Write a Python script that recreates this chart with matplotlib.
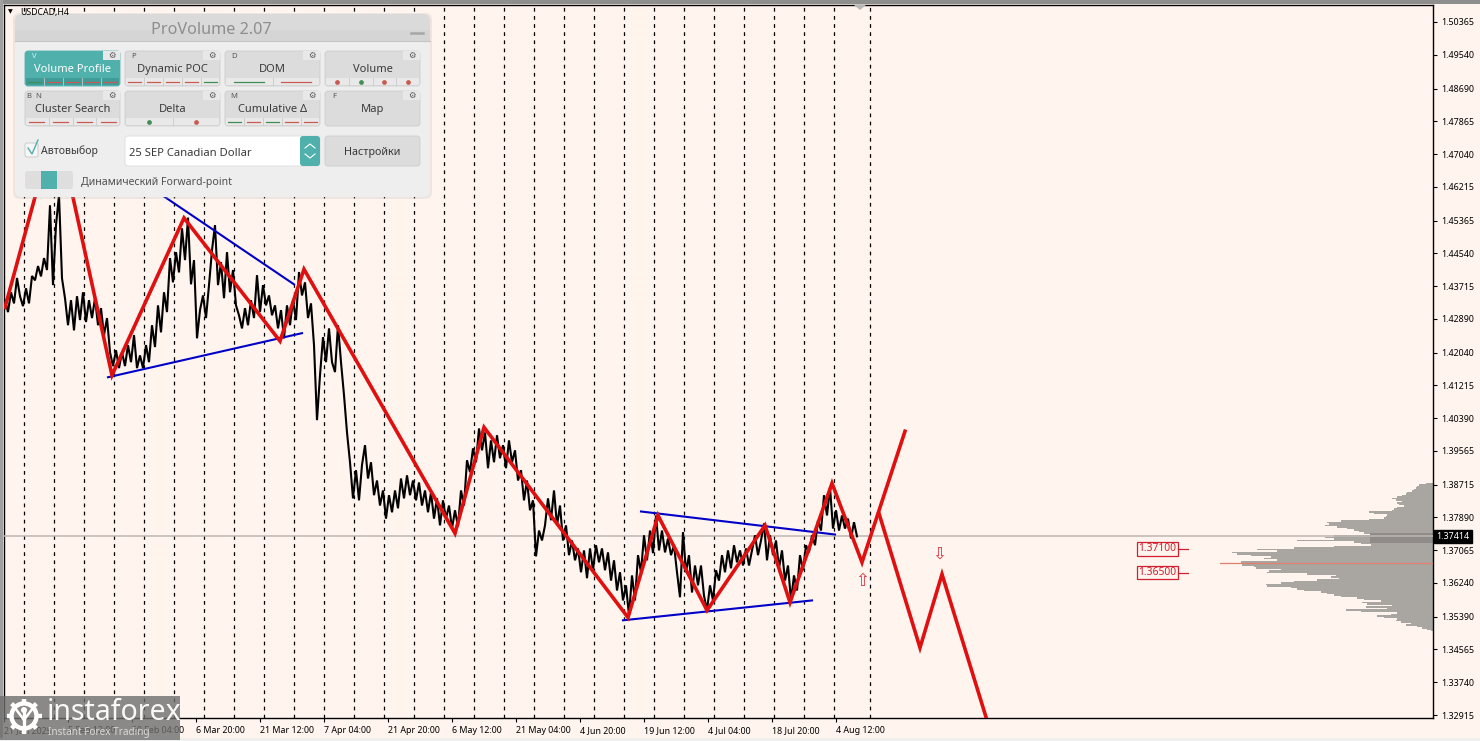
import numpy as np
import matplotlib as mpl
mpl.use('agg')
import matplotlib.pyplot as plt
from matplotlib.patches import FancyBboxPatch, Rectangle, Circle

plt.rcParams['font.family'] = ['Noto Sans', 'DejaVu Sans']

# price path of USDCAD H4, one value every 3 chart positions
price_path = [
    1.4336,1.4306,1.4356,1.4328,1.4392,1.4346,1.4321,1.4366,1.4328,1.4397,
    1.4386,1.4422,1.4396,1.4442,1.4412,1.4575,1.4374,1.4525,1.4601,1.4391,
    1.4341,1.4273,1.4336,1.4260,1.4346,1.4286,1.4356,1.4281,1.4336,1.4291,
    1.4341,1.4273,1.4316,1.4248,1.4291,1.4205,1.4170,1.4210,1.4165,1.4205,
    1.4170,1.4223,1.4180,1.4248,1.4165,1.4197,1.4165,1.4223,1.4180,1.4273,
    1.4218,1.4323,1.4255,1.4356,1.4306,1.4442,1.4381,1.4457,1.4406,1.4517,
    1.4437,1.4544,1.4376,1.4437,1.4240,1.4311,1.4348,1.4291,1.4374,1.4462,
    1.4525,1.4374,1.4432,1.4341,1.4457,1.4356,1.4412,1.4323,1.4298,1.4265,
    1.4316,1.4273,1.4336,1.4291,1.4399,1.4306,1.4374,1.4323,1.4348,1.4298,
    1.4323,1.4265,1.4311,1.4240,1.4323,1.4273,1.4336,1.4286,1.4407,1.4348,
    1.4381,1.4291,1.4328,1.4223,1.4034,1.4147,1.4243,1.4180,1.4265,1.4180,
    1.4155,1.4273,1.4180,1.4097,1.4003,1.3928,1.3837,1.3908,1.3832,1.3921,
    1.3971,1.3887,1.3928,1.3845,1.3882,1.3819,1.3857,1.3786,1.3845,1.3802,
    1.3857,1.3812,1.3887,1.3837,1.3895,1.3845,1.3882,1.3832,1.3877,1.3819,
    1.3857,1.3802,1.3852,1.3786,1.3837,1.3769,1.3832,1.3786,1.3819,1.3761,
    1.3807,1.3766,1.3857,1.3819,1.3933,1.3903,1.3963,1.3928,1.4013,1.3958,
    1.4003,1.3913,1.3983,1.3928,1.3996,1.3938,1.3971,1.3913,1.3983,1.3928,
    1.3958,1.3882,1.3908,1.3832,1.3882,1.3807,1.3832,1.3691,1.3756,1.3731,
    1.3769,1.3837,1.3782,1.3857,1.3769,1.3819,1.3731,1.3769,1.3694,1.3731,
    1.3681,1.3711,1.3651,1.3706,1.3636,1.3711,1.3656,1.3719,1.3676,1.3711,
    1.3656,1.3701,1.3630,1.3681,1.3605,1.3651,1.3580,1.3618,1.3542,1.3643,
    1.3580,1.3694,1.3651,1.3744,1.3681,1.3756,1.3699,1.3794,1.3706,1.3756,
    1.3701,1.3736,1.3694,1.3719,1.3651,1.3588,1.3752,1.3651,1.3694,1.3600,
    1.3668,1.3618,1.3668,1.3592,1.3555,1.3618,1.3580,1.3656,1.3630,1.3694,
    1.3651,1.3706,1.3661,1.3719,1.3676,1.3706,1.3668,1.3711,1.3668,1.3706,
    1.3744,1.3694,1.3731,1.3774,1.3681,1.3744,1.3694,1.3731,1.3661,1.3706,
    1.3630,1.3668,1.3580,1.3643,1.3605,1.3694,1.3656,1.3719,1.3701,1.3744,
    1.3719,1.3782,1.3756,1.3845,1.3794,1.3865,1.3761,1.3807,1.3756,1.3794,
    1.3761,1.3786,1.3736,1.3777,1.37414,
]
last_price = 1.37414

# red zigzag and the forecast legs
zigzag_x = [5, 56, 112, 184, 280, 304, 455, 484, 628, 658, 707, 765, 790, 832, 862, 905]
zigzag_y = [1.4318, 1.4790, 1.4147, 1.4543, 1.4233, 1.4414, 1.3749, 1.4016, 1.3537,
            1.3794, 1.3555, 1.3769, 1.3575, 1.3875, 1.3676, 1.4006]
forecast_x = [879, 920, 942, 988]
forecast_y = [1.3799, 1.3461, 1.3646, 1.3270]

# blue trend lines
trend_lines = [
    ([108, 302], [1.4142, 1.4253]),
    ([150, 294], [1.4621, 1.4376]),
    ([641, 835], [1.3804, 1.3746]),
    ([623, 812], [1.3530, 1.3580]),
]

# volume profile
profile_prices = [
    1.38750,1.38712,1.38674,1.38636,1.38598,1.38560,1.38522,1.38484,1.38446,1.38408,
    1.38370,1.38332,1.38294,1.38256,1.38218,1.38180,1.38142,1.38104,1.38066,1.38028,
    1.37990,1.37952,1.37914,1.37876,1.37838,1.37800,1.37762,1.37724,1.37686,1.37648,
    1.37610,1.37572,1.37534,1.37496,1.37458,1.37420,1.37382,1.37344,1.37306,1.37268,
    1.37230,1.37192,1.37154,1.37116,1.37078,1.37040,1.37002,1.36964,1.36926,1.36888,
    1.36850,1.36812,1.36774,1.36736,1.36698,1.36660,1.36622,1.36584,1.36546,1.36508,
    1.36470,1.36432,1.36394,1.36356,1.36318,1.36280,1.36242,1.36204,1.36166,1.36128,
    1.36090,1.36052,1.36014,1.35976,1.35938,1.35900,1.35862,1.35824,1.35786,1.35748,
    1.35710,1.35672,1.35634,1.35596,1.35558,1.35520,1.35482,1.35444,1.35406,1.35368,
    1.35330,1.35292,1.35254,1.35216,1.35178,1.35140,1.35102,1.35064,1.35026,
]
profile_volume = [
    7,14,16,17,19,21,26,27,31,36,
    41,37,31,36,34,29,36,39,41,64,
    59,46,47,49,64,92,106,104,108,96,
    86,79,74,69,59,99,108,99,136,79,
    72,62,99,139,176,156,201,196,182,162,
    169,156,192,212,191,179,177,152,164,166,
    126,97,102,94,116,139,152,167,166,142,
    136,129,112,106,99,92,76,69,52,71,
    66,41,67,46,87,72,36,42,56,49,
    36,37,32,22,27,16,11,6,2,
]
poc_price = 1.36736

levels = [1.37100, 1.36500]
level_labels = ['1.37100', '1.36500']

y_ticks = [1.50365,1.49540,1.48690,1.47865,1.47040,1.46215,1.45365,1.44540,1.43715,1.42890,
           1.42040,1.41215,1.40390,1.39565,1.38715,1.37890,1.37065,1.36240,1.35390,1.34565,
           1.33740,1.32915]
x_ticks = [4, 68, 132, 196, 260, 324, 388, 452, 516, 580, 644, 708, 772, 836]
x_labels = ['21 Jan 2025', '5 Feb 12:00', '20 Feb 04:00', '6 Mar 20:00', '21 Mar 12:00', '7 Apr 04:00',
            '21 Apr 20:00', '6 May 12:00', '21 May 04:00', '4 Jun 20:00', '19 Jun 12:00', '4 Jul 04:00',
            '18 Jul 20:00', '4 Aug 12:00']
period_lines = list(range(24, 835, 30)) + [870]

BG = '#FFF5EE'
RED = '#E01010'
BLUE = '#0000C8'
TEAL = '#4FB0AC'

fig = plt.figure(figsize=(14.8, 7.41), dpi=100, facecolor=BG)
ax = fig.add_axes([4 / 1480, 23 / 741, 1429 / 1480, 713 / 741], facecolor=BG)
ax.set_xlim(4, 1433)
ax.set_ylim(1.32840, 1.50793)

for x in period_lines:
    ax.axvline(x, color='black', lw=0.9, dashes=(3, 3.5), zorder=1)

# profile first, so the price line goes over it
ax.fill_betweenx(profile_prices, [1433 - v for v in profile_volume], 1433, step='mid',
                 color='#A9A5A1', lw=0, zorder=2)
ax.fill_betweenx([1.3751, 1.3725], 1370, 1433, color='#8F8B88', lw=0, zorder=2)
ax.plot([1220, 1433], [poc_price, poc_price], color='#E08070', lw=0.9, zorder=3)
ax.axhline(last_price, color='#BDB6B0', lw=1.1, zorder=3)

bar_x = np.arange(len(price_path)) * 3 + 5
ax.plot(bar_x, price_path, color='black', lw=1.5, zorder=4, solid_joinstyle='miter')

for tx, ty in trend_lines:
    ax.plot(tx, ty, color=BLUE, lw=1.5, zorder=5)
ax.plot(zigzag_x, zigzag_y, color=RED, lw=2.6, zorder=6, solid_joinstyle='miter')
ax.plot(forecast_x, forecast_y, color=RED, lw=2.6, zorder=6, solid_joinstyle='miter')

ax.text(862, 1.3629, '\u21e7', color='#E03040', fontsize=12, ha='center', va='center',
        family='DejaVu Sans', zorder=7)
ax.text(939, 1.3697, '\u21e9', color='#E03040', fontsize=12, ha='center', va='center',
        family='DejaVu Sans', zorder=7)

for lev, lab in zip(levels, level_labels):
    ax.text(1157.5, lev, lab, color='#D02030', fontsize=7.4, ha='center', va='center', zorder=7,
            bbox=dict(boxstyle='square,pad=0.12', fc='none', ec='#D02030', lw=0.9))
    ax.plot([1178, 1188], [lev, lev], color='#D02030', lw=0.9, zorder=7)

ax.yaxis.tick_right()
ax.set_yticks(y_ticks)
ax.set_yticklabels(['%.5f' % v for v in y_ticks], fontsize=6.4)
ax.set_xticks(x_ticks)
ax.set_xticklabels(x_labels, fontsize=6.4, ha='left')
ax.tick_params(axis='y', length=3, width=0.8, pad=3)
ax.tick_params(axis='x', length=3, width=0.8, pad=3)
for s in ax.spines.values():
    s.set_linewidth(1.0)

ax.text(1453, last_price, '%.5f' % last_price, color='white', fontsize=6.4, ha='center', va='center',
        clip_on=False, zorder=8, bbox=dict(boxstyle='square,pad=0.22', fc='black', ec='black'))

# overlay in screen pixels for the window frame, the panel and the logo
ui = fig.add_axes([0, 0, 1, 1], facecolor='none', zorder=5)
ui.set_xlim(0, 1480)
ui.set_ylim(741, 0)
ui.axis('off')


def box(x0, y0, x1, y1, color, r=3, **kw):
    p = FancyBboxPatch((x0 + r, y0 + r), x1 - x0 - 2 * r, y1 - y0 - 2 * r,
                       boxstyle='round,pad=%g,rounding_size=%g' % (r, r), fc=color, lw=kw.pop('lw', 0), **kw)
    ui.add_patch(p)
    return p


ui.add_patch(Rectangle((0, 0), 1480, 3.5, fc='#8E8E8E', lw=0))
ui.add_patch(Rectangle((0, 0), 2.5, 741, fc='#A0A0A0', lw=0))
ui.add_patch(Rectangle((0, 738), 1480, 3, fc='#EFEFEF', lw=0))

ui.text(8, 12, '\u25bc', fontsize=4.5, color='black', ha='left', va='center', family='DejaVu Sans')
ui.text(20, 12, 'USDCAD,H4', fontsize=6.3, color='black', ha='left', va='center')
ui.add_patch(plt.Polygon([[854, 5], [866, 5], [860, 10]], fc='#B8B8B8', lw=0))

# panel
box(13, 13, 432, 199, '#B0B0B0', r=7, alpha=0.22)
box(15, 14, 430, 197, '#EEEEEE', r=7)
box(15, 14, 430, 41, '#DADADA', r=7)
ui.add_patch(Rectangle((15, 30), 415, 11, fc='#D5D5D5', lw=0))
ui.plot([15, 430], [41, 41], color='#C4C4C4', lw=0.8)
ui.text(211, 30, 'ProVolume 2.07', fontsize=11.7, color='#8E8E8E', ha='center', va='center')
ui.plot([411, 423], [33, 33], color='#A6A6A6', lw=1.8)

buttons = [
    (25, 51, 120, 'Volume Profile', 'V', ['g', 'r', 'r', 'r', 'r'], True),
    (125, 51, 220, 'Dynamic POC', 'P', ['r', 'r', 'r', 'r', 'g'], False),
    (225, 51, 320, 'DOM', 'D', ['g', 'r'], False),
    (325, 51, 420, 'Volume', '', ['R', 'G', 'R', 'R'], False),
    (25, 91, 120, 'Cluster Search', 'B  N', ['r', 'r', 'r', 'r'], False),
    (125, 91, 220, 'Delta', '', ['G', 'R'], False),
    (225, 91, 320, 'Cumulative \u0394', 'M', ['g', 'r', 'g', 'r', 'r'], False),
    (325, 91, 420, 'Map', 'F', [], False),
]
for x0, y0, x1, label, key, marks, active in buttons:
    y1 = y0 + 35
    box(x0, y0, x1, y1, TEAL if active else '#DCDCDC', r=3, ec='#CDCDCD' if not active else TEAL, lw=0.6)
    txt = 'white' if active else '#3A3A3A'
    ui.text((x0 + x1) / 2, y0 + 18.5, label, fontsize=8, color=txt, ha='center', va='center')
    if key:
        ui.text(x0 + 9, y0 + 5.5, key, fontsize=5.5, color='#555555' if not active else '#E0F0F0',
                ha='center', va='center')
    ui.add_patch(Rectangle((x1 - 17, y0), 17, 9, fc='#E8E8E8', lw=0))
    ui.text(x1 - 8.5, y0 + 4.5, '\u2699', fontsize=6, color='#555555', ha='center', va='center',
            family='DejaVu Sans')
    if marks:
        ui.add_patch(Rectangle((x0 + 1, y1 - 8), x1 - x0 - 2, 7, fc='#3F9C98' if active else '#E9E9E9', lw=0))
        w = (x1 - x0) / len(marks)
        for i, m in enumerate(marks):
            cx = x0 + w * (i + 0.5)
            col = {'g': '#3F8F55', 'r': '#C85A50', 'G': '#3F8F55', 'R': '#C85A50'}[m]
            if m in 'gr':
                ui.plot([cx - w * 0.32, cx + w * 0.32], [y1 - 4.5, y1 - 4.5], color=col, lw=0.9)
            else:
                ui.plot([cx], [y1 - 4.5], 'o', color=col, ms=2.4)
            if i:
                ui.plot([x0 + w * i] * 2, [y1 - 8, y1 - 1], color='#C8C8C8', lw=0.6)

# checkbox, combo, settings, toggle
box(25, 143, 38, 157, '#F6F6F6', r=2, ec='#CCCCCC', lw=0.7)
ui.plot([28, 32, 38], [148, 154, 140], color=TEAL, lw=1.0)
ui.text(41, 151, 'Автовыбор', fontsize=7.6, color='#3A3A3A', ha='left', va='center')
box(125, 136, 320, 166, 'white', r=3, ec='#DDDDDD', lw=0.6)
box(300, 136, 320, 166, TEAL, r=3)
ui.plot([305, 310, 315], [148, 144, 148], color='white', lw=0.8)
ui.plot([305, 310, 315], [154, 158, 154], color='white', lw=0.8)
ui.text(129, 153, '25 SEP Canadian Dollar', fontsize=8.1, color='#3A3A3A', ha='left', va='center')
box(325, 136, 420, 166, '#DCDCDC', r=3, ec='#CDCDCD', lw=0.6)
ui.text(372.5, 153, 'Настройки', fontsize=7.8, color='#3A3A3A', ha='center', va='center')
box(25, 171, 73, 189, '#DEDEDE', r=3)
ui.add_patch(Rectangle((41, 171), 16, 18, fc=TEAL, lw=0))
ui.text(81, 182, 'Динамический Forward-point', fontsize=7.6, color='#505050', ha='left', va='center')

# logo
ui.add_patch(Rectangle((0, 696), 180, 44, fc='#6E6E6E', alpha=0.8, lw=0))
ui.text(47, 713, 'instaforex', fontsize=20.5, color='white', ha='left', va='center', alpha=0.95,
        fontweight='light')
ui.text(48, 732, 'Instant Forex Trading', fontsize=7.2, color='#D8D8D8', ha='left', va='center')
ui.add_patch(Circle((24, 716), 12.5, fc='none', ec='white', lw=3.2))
for a in np.deg2rad(np.arange(0, 360, 45)):
    ui.plot([24 + 13 * np.cos(a), 24 + 17.5 * np.cos(a)], [716 + 13 * np.sin(a), 716 + 17.5 * np.sin(a)],
            color='white', lw=3.2, solid_capstyle='butt')
ui.add_patch(Circle((24, 710), 3, fc='white', lw=0))
ui.plot([24, 24], [712, 731], color='white', lw=2.4)
ui.plot([15, 24, 33], [708, 720, 708], color='white', lw=1.8)

fig.savefig('out.png', dpi=100, facecolor=BG)
